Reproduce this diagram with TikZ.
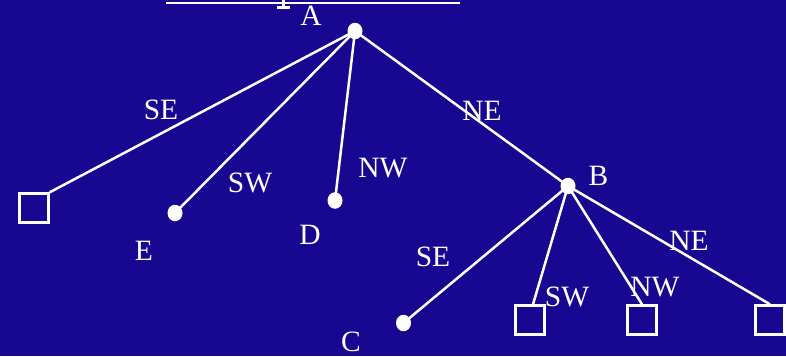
\documentclass[tikz,border=0pt]{standalone}
\usepackage{fontspec}
\setmainfont{Liberation Serif}
\usetikzlibrary{shapes.geometric}
\definecolor{bg}{RGB}{24,7,145}
\begin{document}
\begin{tikzpicture}[x=1pt,y=-1pt,
  edge/.style={draw=white,line width=2.5pt},
  dot/.style={ellipse,fill=white,minimum width=15pt,minimum height=16.5pt,inner sep=0pt},
  leaf/.style={draw=white,line width=2.4pt,minimum size=29pt,inner sep=0pt},
  lab/.style={text=white,font=\fontsize{29.5}{32}\selectfont,inner sep=0pt}]
\fill[bg] (0,0) rectangle (786,356);
\useasboundingbox (0,0) rectangle (786,356);
% cut-off title remnants
\draw[white,line width=2.4pt] (166,3) -- (460,3);
\fill[white] (281.5,0) rectangle (285,7);
\fill[white] (277,6) rectangle (289.5,8.5);
% nodes
\node[dot] (A) at (355,31) {};
\node[dot] (E) at (175,213) {};
\node[dot] (D) at (335,200.5) {};
\node[dot] (B) at (568,186) {};
\node[dot] (C) at (403.5,323) {};
\node[leaf] (S1) at (34,208) {};
\node[leaf] (S2) at (530,320) {};
\node[leaf] (S3) at (642,320) {};
\node[leaf] (S4) at (770,320) {};
% node labels
\node[lab] (lA) at (311,16) {A};
\node[lab] (lE) at (144,251) {E};
\node[lab] (lD) at (310,235) {D};
\node[lab] (lB) at (598.5,176) {B};
\node[lab] (lC) at (351,342) {C};
% edges
\draw[edge] (A.center) -- (S1.north east);
\draw[edge] (A.center) -- (E.center);
\draw[edge] (A.center) -- (D.center);
\draw[edge] (A.center) -- (B.center);
\draw[edge] (B.center) -- (C.center);
\draw[edge] (B.center) -- ([xshift=3pt]S2.north);
\draw[edge] (B.center) -- (S3.north);
\draw[edge] (B.center) -- (S4.north);
% edge labels
\node[lab] (e1) at (161,110) {SE};
\node[lab] (e2) at (250,183) {SW};
\node[lab] (e3) at (383,168) {NW};
\node[lab] (e4) at (482,110.5) {NE};
\node[lab] (e5) at (433,257) {SE};
\node[lab] (e6) at (567,297) {SW};
\node[lab] (e7) at (655,287) {NW};
\node[lab] (e8) at (689,241) {NE};
\end{tikzpicture}
\end{document}
